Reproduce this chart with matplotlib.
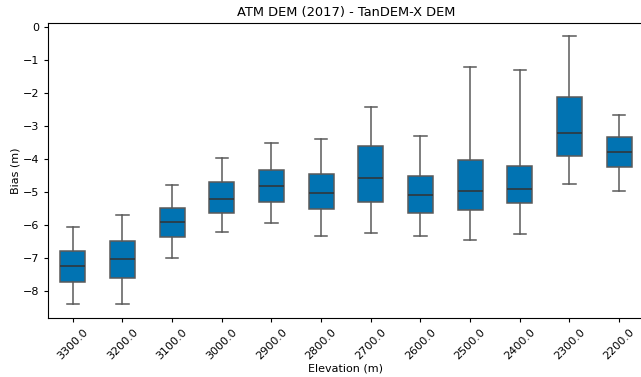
import matplotlib
matplotlib.use('Agg')
import matplotlib.pyplot as plt

elevations = ['3300.0', '3200.0', '3100.0', '3000.0', '2900.0', '2800.0',
              '2700.0', '2600.0', '2500.0', '2400.0', '2300.0', '2200.0']
whislo = [-8.41, -8.41, -7.00, -6.22, -5.95, -6.32, -6.25, -6.34, -6.46, -6.27, -4.77, -4.97]
q1 = [-7.72, -7.60, -6.37, -5.63, -5.30, -5.52, -5.30, -5.65, -5.54, -5.35, -3.90, -4.25]
med = [-7.25, -7.04, -5.92, -5.20, -4.83, -5.04, -4.59, -5.08, -4.97, -4.90, -3.22, -3.80]
q3 = [-6.79, -6.48, -5.48, -4.69, -4.32, -4.47, -3.62, -4.53, -4.04, -4.20, -2.13, -3.33]
whishi = [-6.07, -5.70, -4.79, -3.98, -3.53, -3.40, -2.43, -3.29, -1.22, -1.31, -0.26, -2.67]

stats = []
for i, lab in enumerate(elevations):
    stats.append(dict(label=lab, whislo=whislo[i], q1=q1[i], med=med[i],
                      q3=q3[i], whishi=whishi[i], fliers=[]))

fig = plt.figure(figsize=(6.41, 3.77), dpi=100)
ax = fig.add_axes([48 / 641, 59 / 377, 596 / 641, 295 / 377])

line = '#5a5a5a'
ax.bxp(stats, positions=range(len(stats)), widths=0.5, patch_artist=True,
       showfliers=False,
       boxprops=dict(facecolor='#0173B2', edgecolor=line, linewidth=1.1),
       whiskerprops=dict(color=line, linewidth=1.1),
       capprops=dict(color=line, linewidth=1.1),
       medianprops=dict(color='#333333', linewidth=1.1))

ax.set_xlim(-0.5, len(stats) - 0.5)
ax.set_ylim(-8.82, 0.12)
ax.set_yticks(range(-8, 1))
ax.set_xticks(range(len(stats)))
ax.set_xticklabels(elevations, rotation=45)
ax.tick_params(labelsize=8, length=3)
ax.set_title('ATM DEM (2017) - TanDEM-X DEM', fontsize=9.4, pad=5)
ax.set_xlabel('Elevation (m)', fontsize=8, labelpad=1.5)
ax.set_ylabel('Bias (m)', fontsize=8, labelpad=1.5)

plt.savefig('out.png', dpi=100)
plt.close()
